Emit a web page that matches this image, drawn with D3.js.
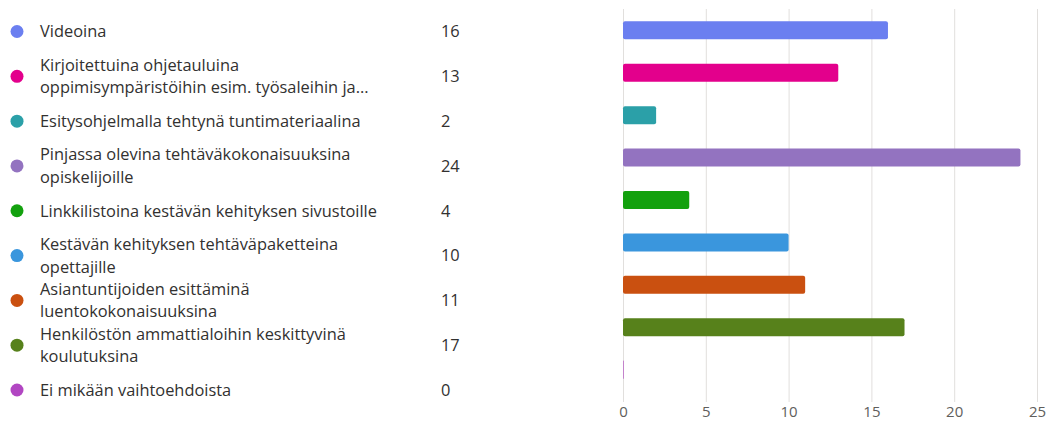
<!DOCTYPE html>
<html>
<head>
<meta charset="utf-8">
<script src="https://cdn.jsdelivr.net/npm/d3@7"></script>
<style>
  body { margin: 0; background: #fff; }
  text { font-family: "Open Sans", "Noto Sans", sans-serif; }
  .label { font-size: 16.4px; fill: #323130; }
  .axis text { font-size: 15px; fill: #605e5c; }
  .axis path { display: none; }
  .axis line { stroke: #e1dfdd; }
</style>
</head>
<body>
<div class="chart"></div>
<script>
// answers, one line or two lines as shown
const categories = [
  ["Videoina"],
  ["Kirjoitettuina ohjetauluina", "oppimisympäristöihin esim. työsaleihin ja..."],
  ["Esitysohjelmalla tehtynä tuntimateriaalina"],
  ["Pinjassa olevina tehtäväkokonaisuuksina", "opiskelijoille"],
  ["Linkkilistoina kestävän kehityksen sivustoille"],
  ["Kestävän kehityksen tehtäväpaketteina", "opettajille"],
  ["Asiantuntijoiden esittäminä", "luentokokonaisuuksina"],
  ["Henkilöstön ammattialoihin keskittyvinä", "koulutuksina"],
  ["Ei mikään vaihtoehdoista"]
];
const counts = [16, 13, 2, 24, 4, 10, 11, 17, 0];
const colors = ["#6b7ff0", "#e3008c", "#2ba0a8", "#9373c0", "#13a10e",
                "#3a96dd", "#ca5010", "#57811b", "#b146c2"];
const xTicks = [0, 5, 10, 15, 20, 25];

const width = 1048, height = 423;

const svg = d3.select(".chart").append("svg")
  .attr("width", width)
  .attr("height", height);

const idx = d3.range(categories.length);

// legend rows on the left
const rowY = d3.scalePoint().domain(idx).range([31.5, 390]);

const rows = svg.append("g").selectAll("g.row")
  .data(idx)
  .join("g")
  .attr("class", "row")
  .attr("transform", i => `translate(0, ${rowY(i)})`);

rows.append("circle")
  .attr("cx", 17)
  .attr("cy", 0)
  .attr("r", 6.5)
  .attr("fill", i => colors[i]);

rows.each(function(i) {
  const lines = categories[i];
  const lh = 22.5;
  const t = d3.select(this).append("text")
    .attr("class", "label")
    .attr("x", 40);
  lines.forEach((l, k) => {
    t.append("tspan")
      .attr("x", 40)
      .attr("y", (k - (lines.length - 1) / 2) * lh)
      .attr("dy", "0.35em")
      .text(l);
  });
});

rows.append("text")
  .attr("class", "label")
  .attr("x", 441)
  .attr("dy", "0.35em")
  .text(i => counts[i]);

// bar chart on the right
const xScale = d3.scaleLinear().domain([0, 25]).range([623, 1037]);
const yScale = d3.scaleBand().domain(idx).range([9, 391]).paddingInner(0.575).paddingOuter(0.29);

const xAxis = d3.axisBottom(xScale)
  .tickValues(xTicks)
  .tickSize(-(402 - 9))
  .tickPadding(4);

svg.append("g")
  .attr("class", "axis x-axis")
  .attr("transform", "translate(0, 402)")
  .call(xAxis);

svg.append("g").selectAll("rect")
  .data(idx)
  .join("rect")
  .attr("x", xScale(0))
  .attr("y", i => yScale(i))
  .attr("width", i => Math.max(1, xScale(counts[i]) - xScale(0)))
  .attr("height", yScale.bandwidth())
  .attr("rx", i => counts[i] > 0 ? 2 : 0)
  .attr("fill", i => colors[i])
  .attr("opacity", i => counts[i] > 0 ? 1 : 0.6);
</script>
</body>
</html>
